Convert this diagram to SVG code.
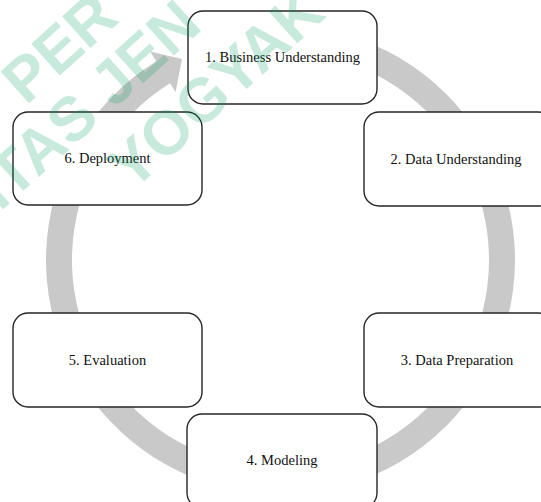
<svg xmlns="http://www.w3.org/2000/svg" width="541" height="502" viewBox="0 0 541 502">
<style>
.box{fill:#fff;stroke:#262626;stroke-width:1.4}
.lbl{font-family:"Liberation Serif","Times New Roman",serif;font-size:14.5px;fill:#111;text-anchor:middle;dominant-baseline:central}
.wm{font-family:"Liberation Sans",Arial,sans-serif;font-weight:bold;font-size:62px;fill:#00a060;fill-opacity:0.22}
</style>
<rect width="541" height="502" fill="#fff"/>
<g id="connectors">
<path id="cycle-arrow" fill="#c9c9c9" d="M247.86,27.78 A234.5,234.5 0 1 1 156.23,61.13 L150.14,51.38 L182,59 L175.58,92.09 L170.01,83.18 A208.5,208.5 0 1 0 251.48,53.53 Z"/>
</g>
<g id="node1"><rect class="box" x="188" y="11" width="189" height="93" rx="15"/><text class="lbl" x="282.5" y="57">1. Business Understanding</text></g>
<g id="node2"><rect class="box" x="364" y="112" width="189" height="94" rx="15"/><text class="lbl" x="456" y="159">2. Data Understanding</text></g>
<g id="node3"><rect class="box" x="364" y="313" width="189" height="94" rx="15"/><text class="lbl" x="457" y="360">3. Data Preparation</text></g>
<g id="node4"><rect class="box" x="187" y="414" width="190" height="94" rx="15"/><text class="lbl" x="282" y="460">4. Modeling</text></g>
<g id="node5"><rect class="box" x="13" y="313" width="189" height="94" rx="15"/><text class="lbl" x="107.5" y="360">5. Evaluation</text></g>
<g id="node6"><rect class="box" x="13" y="112" width="189" height="93" rx="15"/><text class="lbl" x="107.5" y="158">6. Deployment</text></g>
<g id="watermark">
<text class="wm" transform="translate(26,106) rotate(-42)">PER</text>
<text class="wm" transform="translate(0,212) rotate(-42)">ITAS JEN</text>
<text class="wm" transform="translate(132,192) rotate(-42)">YOGYAK</text>
</g>
</svg>
